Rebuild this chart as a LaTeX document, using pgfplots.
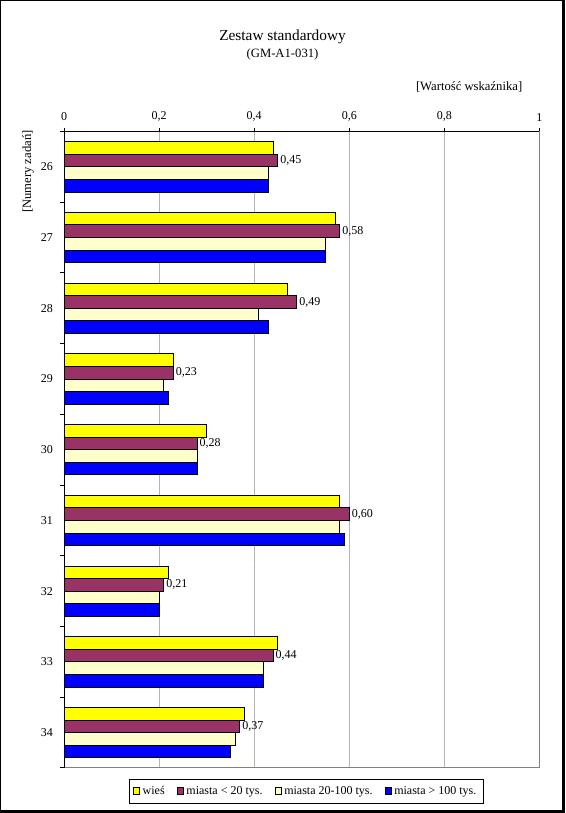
\documentclass[border=0pt]{standalone}
\usepackage{fontspec}
\setmainfont{Liberation Serif}
\usepackage{pgfplots}
\pgfplotsset{compat=1.18}
\definecolor{cYel}{HTML}{FFFF00}
\definecolor{cMar}{HTML}{993366}
\definecolor{cCre}{HTML}{FFFFCC}
\definecolor{cBlu}{HTML}{0000FF}
\definecolor{cGrid}{HTML}{B4B4B4}
\definecolor{cBord}{HTML}{808080}
\begin{document}
\begin{tikzpicture}
% outer chart frame (thin left/top, shadow right/bottom)
\fill[black] (-48pt,576pt) rectangle (375.75pt,-33.75pt);
\fill[white] (-47.25pt,575.25pt) rectangle (373.5pt,-31.5pt);
\begin{axis}[
  scale only axis, width=356.6pt, height=477.4pt,
  xmin=0, xmax=1, ymin=-0.5, ymax=8.5,
  xbar, bar width=0.178,
  xtick={0,0.2,0.4,0.6,0.8,1},
  xticklabels={0,{0,2},{0,4},{0,6},{0,8},1},
  xtick pos=upper, xticklabel pos=upper,
  ytick={0,1,2,3,4,5,6,7,8},
  yticklabels={34,33,32,31,30,29,28,27,26},
  minor ytick={-0.5,0.5,1.5,2.5,3.5,4.5,5.5,6.5,7.5,8.5},
  ytick pos=lower,
  tick align=outside,
  major tick length=2.25pt, minor tick length=3pt,
  major y tick style={draw=none},
  minor y tick style={black, line width=0.75pt},
  major x tick style={black, line width=0.75pt},
  xmajorgrids, grid style={cGrid, line width=0.75pt},
  axis line style={cBord, line width=0.75pt},
  tick label style={font=\fontsize{9}{10}\selectfont},
  xticklabel style={yshift=2pt},
  yticklabel style={xshift=-2.5pt},
  legend style={at={(axis description cs:0.509,-0.0173)}, anchor=north,
    legend columns=4, draw=black, line width=0.6pt,
    font=\fontsize{9}{10.5}\selectfont, inner xsep=3pt, inner ysep=3pt,
    /tikz/every even column/.append style={column sep=7pt}},
  legend image code/.code={\draw[#1, draw=black, line width=0.5pt] (0pt,-2.2pt) rectangle (4.8pt,2.6pt);},
  clip=false,
]
\addplot[fill=cYel, draw=black, line width=0.75pt, bar shift=0.267]
  coordinates {(0.44,8) (0.57,7) (0.47,6) (0.23,5) (0.30,4) (0.58,3) (0.22,2) (0.45,1) (0.38,0)};
\addlegendentry{wieś}
\addplot[fill=cMar, draw=black, line width=0.75pt, bar shift=0.089,
  point meta=x,
  nodes near coords={\pgfmathprintnumber[assume math mode=true,fixed,fixed zerofill,precision=2,use comma]{\pgfplotspointmeta}},
  nodes near coords style={font=\fontsize{9}{10}\selectfont, inner sep=1.5pt, anchor=west, black}]
  coordinates {(0.45,8) (0.58,7) (0.49,6) (0.23,5) (0.28,4) (0.60,3) (0.21,2) (0.44,1) (0.37,0)};
\addlegendentry{miasta < 20 tys.}
\addplot[fill=cCre, draw=black, line width=0.75pt, bar shift=-0.089]
  coordinates {(0.43,8) (0.55,7) (0.41,6) (0.21,5) (0.28,4) (0.58,3) (0.20,2) (0.42,1) (0.36,0)};
\addlegendentry{miasta 20-100 tys.}
\addplot[fill=cBlu, draw=black, line width=0.75pt, bar shift=-0.267]
  coordinates {(0.43,8) (0.55,7) (0.43,6) (0.22,5) (0.28,4) (0.59,3) (0.20,2) (0.42,1) (0.35,0)};
\addlegendentry{miasta > 100 tys.}
\draw[black, line width=0.75pt] (axis description cs:0,0) -- (axis description cs:0,1) -- (axis description cs:1,1);
\end{axis}
\node[font=\fontsize{11.5}{13}\selectfont] at (163.9pt,548.5pt) {Zestaw standardowy};
\node[font=\fontsize{9.5}{11}\selectfont] at (163.9pt,534.8pt) {(GM-A1-031)};
\node[font=\fontsize{9.5}{11}\selectfont, anchor=east, inner sep=0pt] at (343.9pt,511pt) {[Wartość wskaźnika]};
\node[font=\fontsize{9.5}{11}\selectfont, rotate=90, anchor=east, inner sep=0pt] at (-27pt,478.5pt) {[Numery zadań]};
\end{tikzpicture}
\end{document}
